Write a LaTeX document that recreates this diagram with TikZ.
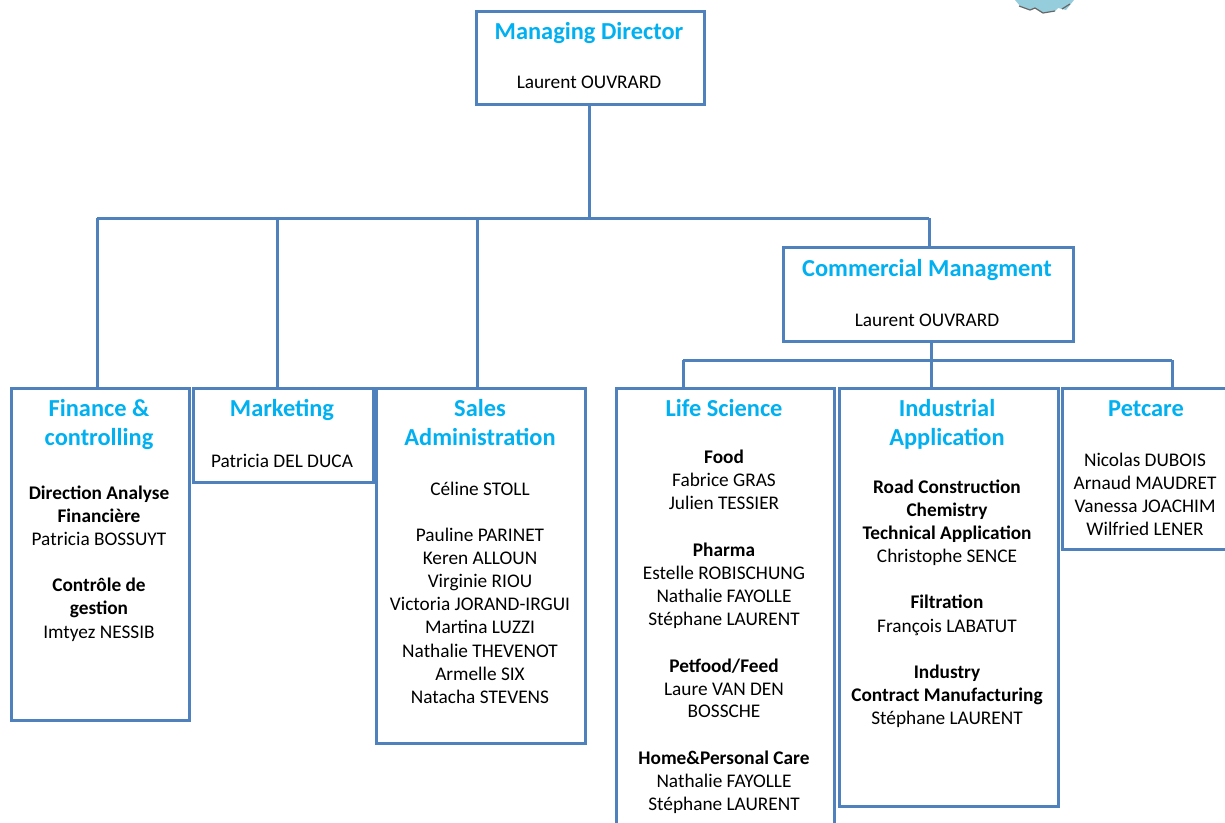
\documentclass[tikz,border=0pt]{standalone}
\usepackage{fontspec}
\setmainfont{Carlito}
\definecolor{boxblue}{RGB}{79,129,189}
\definecolor{titleblue}{RGB}{0,176,240}
\definecolor{cogfill}{RGB}{150,205,220}
\begin{document}
\begin{tikzpicture}[x=1bp,y=-1bp,
  box/.style={draw=boxblue,line width=3bp,rectangle,inner sep=0pt,anchor=north west,fill=white},
  conn/.style={draw=boxblue,line width=3bp},
  txt/.style={anchor=base,inner sep=0pt,font=\fontsize{19.3bp}{23bp}\selectfont},
  ttl/.style={anchor=base,inner sep=0pt,text=titleblue,font=\fontsize{24.4bp}{29bp}\selectfont\bfseries}]
\useasboundingbox (0,0) rectangle (1225,823);
\clip (0,0) rectangle (1225,823);
\fill[white] (0,0) rectangle (1225,823);
% cog fragment top right
\fill[cogfill] (1015,0) -- (1020,6) -- (1030,10) -- (1035,8) -- (1043,13) -- (1055,11) -- (1058,8) -- (1066,10) -- (1074,0) -- cycle;
\draw[black!60,line width=1.2bp] (1019,6) -- (1030,10) -- (1035,8) -- (1043,13) -- (1055,11) (1062,9) -- (1070,4);
% connector junctions
\coordinate (bus) at (589,218);
\coordinate (jf) at (97,218);
\coordinate (jm) at (277,218);
\coordinate (js) at (477,218);
\coordinate (jc) at (929,218);
\coordinate (bus2) at (931,360);
\coordinate (jl) at (683,360);
\coordinate (ji) at (931,360);
\coordinate (jp) at (1172,360);
% boxes
\node[box,minimum width=228bp,minimum height=93bp] (md) at (475,10) {};
\node[box,minimum width=290bp,minimum height=94bp] (cm) at (782,246) {};
\node[box,minimum width=178bp,minimum height=332bp] (fin) at (10,387) {};
\node[box,minimum width=180bp,minimum height=94bp] (mkt) at (192,387) {};
\node[box,minimum width=209bp,minimum height=355bp] (sal) at (375,387) {};
\node[box,minimum width=218bp,minimum height=450bp] (life) at (615,387) {};
\node[box,minimum width=219bp,minimum height=418bp] (ind) at (838,387) {};
\node[box,minimum width=180bp,minimum height=161bp] (pet) at (1061,387) {};
% connectors
\draw[conn] (bus |- md.south) -- (bus);
\draw[conn] (jf) -- (jc);
\draw[conn] (jf) -- (jf |- fin.north);
\draw[conn] (jm) -- (jm |- mkt.north);
\draw[conn] (js) -- (js |- sal.north);
\draw[conn] (jc) -- (jc |- cm.north);
\draw[conn] (bus2 |- cm.south) -- (bus2);
\draw[conn] (jl) -- (jp);
\draw[conn] (jl) -- (jl |- life.north);
\draw[conn] (ji) -- (ji |- ind.north);
\draw[conn] (jp) -- (jp |- pet.north);
% texts
\node[ttl] (mdt) at (589,39) {Managing Director};
\node[txt] (mdn) at (589,88) {Laurent OUVRARD};
\node[ttl] (cmt) at (927,276) {Commercial Managment};
\node[txt] (cmn) at (927,326) {Laurent OUVRARD};
\node[ttl] (fint1) at (99,416) {Finance \&};
\node[ttl] (fint2) at (99,445) {controlling};
\foreach \y/\t [count=\i] in {493/{\bfseries Direction Analyse},516/{\bfseries Financière},539/{Patricia BOSSUYT},585/{\bfseries Contrôle de},608/{\bfseries gestion},632/{Imtyez NESSIB}}
  \node[txt,name=fin\i] at (99,\y+6) {\t};
\node[ttl] (mktt) at (282,416) {Marketing};
\node[txt] (mktn) at (282,467) {Patricia DEL DUCA};
\node[ttl] (salt1) at (480,416) {Sales};
\node[ttl] (salt2) at (480,445) {Administration};
\foreach \y/\t [count=\i] in {489/{Céline STOLL},535/{Pauline PARINET},558/{Keren ALLOUN},581/{Virginie RIOU},604/{Victoria JORAND-IRGUI},627/{Martina LUZZI},651/{Nathalie THEVENOT},674/{Armelle SIX},697/{Natacha STEVENS}}
  \node[txt,name=sal\i] at (480,\y+6) {\t};
\node[ttl] (lifet) at (724,416) {Life Science};
\foreach \y/\t [count=\i] in {457/{\bfseries Food},480/{Fabrice GRAS},503/{Julien TESSIER},550/{\bfseries Pharma},573/{Estelle ROBISCHUNG},596/{Nathalie FAYOLLE},619/{Stéphane LAURENT},666/{\bfseries Petfood/Feed},689/{Laure VAN DEN},711/{BOSSCHE},758/{\bfseries Home\&Personal Care},781/{Nathalie FAYOLLE},804/{Stéphane LAURENT}}
  \node[txt,name=life\i] at (724,\y+6) {\t};
\node[ttl] (indt1) at (947,416) {Industrial};
\node[ttl] (indt2) at (947,445) {Application};
\foreach \y/\t [count=\i] in {487/{\bfseries Road Construction},510/{\bfseries Chemistry},533/{\bfseries Technical Application},556/{Christophe SENCE},602/{\bfseries Filtration},626/{François LABATUT},672/{\bfseries Industry},695/{\bfseries Contract Manufacturing},718/{Stéphane LAURENT}}
  \node[txt,name=ind\i] at (947,\y+6) {\t};
\node[ttl] (pett) at (1146,416) {Petcare};
\foreach \y/\t [count=\i] in {460/{Nicolas DUBOIS},483/{Arnaud MAUDRET},506/{Vanessa JOACHIM},529/{Wilfried LENER}}
  \node[txt,name=pet\i] at (1145,\y+6) {\t};
\end{tikzpicture}
\end{document}
